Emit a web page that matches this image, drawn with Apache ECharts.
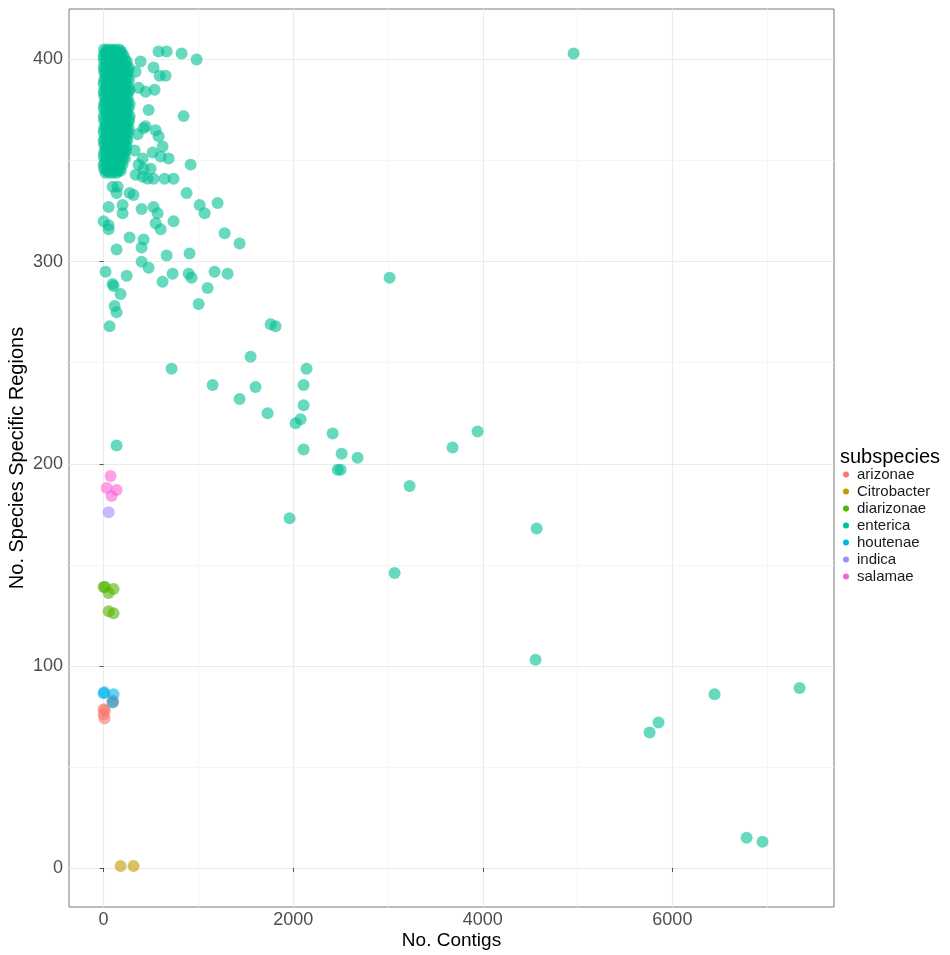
<!DOCTYPE html>
<html>
<head>
<meta charset="utf-8">
<script src="https://cdn.jsdelivr.net/npm/echarts@6/dist/echarts.min.js"></script>
<style>
html,body{margin:0;padding:0;background:#fff;}
#chart{width:950px;height:955px;}
</style>
</head>
<body>
<div id="chart"></div>
<script>
var categories = ['arizonae','Citrobacter','diarizonae','enterica','houtenae','indica','salamae'];
var colors = ['#F8766D','#C49A00','#53B400','#00C094','#00B6EB','#A58AFF','#FB61D7'];
var xTicks = [0, 2000, 4000, 6000];
var xMinor = [1000, 3000, 5000, 7000];
var yTicks = [0, 100, 200, 300, 400];
var yMinor = [50, 150, 250, 350];

var arizonae = [[95,83],[100,82],[0,78.6],[0,76],[10,74],[15,78]];
var citrobacter = [[179,1],[316,1]];
var diarizonae = [[0,139],[15,139],[53,136],[105,138],[53,127],[105,126]];
var houtenae = [[0,86.5],[8,87],[105,86],[95,82]];
var indica = [[53,176]];
var salamae = [[74,194],[32,188],[137,187],[84,184]];

// dense core of enterica (first layer)
var entericaCoreA = [
 [5,405],[40,405],[80,405],[120,405],[165,405],
 [20,403],[60,403],[100,403],[145,403],[190,403],
 [0,400],[45,400],[90,400],[135,400],[180,400],[225,400],
 [15,397],[55,397],[100,397],[150,397],[200,397],[240,397],
 [5,394],[40,394],[85,394],[130,394],[175,394],[220,394],[260,394],
 [25,391],[70,391],[115,391],[160,391],[205,391],[250,391],
 [0,388],[45,388],[90,388],[140,388],[185,388],[230,388],
 [15,385],[60,385],[105,385],[150,385],[200,385],[245,385],[275,385],
 [5,382],[50,382],[95,382],[140,382],[190,382],[235,382],
 [20,379],[65,379],[110,379],[160,379],[210,379],[255,379],
 [0,376],[40,376],[85,376],[130,376],[175,376],[220,376],[265,376],
 [25,373],[70,373],[115,373],[165,373],[210,373],[250,373],
 [5,370],[50,370],[95,370],[140,370],[185,370],[230,370],[270,370],
 [20,367],[60,367],[105,367],[150,367],[200,367],[245,367],
 [0,364],[40,364],[85,364],[130,364],[175,364],[220,364],[260,364],
 [15,361],[60,361],[100,361],[145,361],[195,361],[240,361],
 [5,358],[45,358],[90,358],[135,358],[180,358],[225,358],
 [20,355],[65,355],[110,355],[155,355],[200,355],[235,355],
 [0,352],[40,352],[85,352],[130,352],[170,352],[210,352],
 [15,349],[55,349],[100,349],[145,349],[185,349],
 [5,346],[45,346],[90,346],[130,346],[170,346],
 [20,344],[60,344],[100,344],[140,344]
];
// dense core of enterica (second layer)
var entericaCoreB = [
 [25,404],[65,404],[105,404],[145,404],[185,404],
 [0,402],[40,402],[80,402],[125,402],[170,402],[210,402],
 [25,399],[70,399],[115,399],[160,399],[205,399],[245,399],
 [0,396],[35,396],[80,396],[125,396],[175,396],[220,396],[265,396],
 [20,393],[60,393],[105,393],[150,393],[195,393],[240,393],
 [5,390],[45,390],[95,390],[135,390],[180,390],[230,390],[270,390],
 [25,387],[70,387],[115,387],[165,387],[210,387],[255,387],
 [0,384],[40,384],[85,384],[130,384],[175,384],[220,384],[265,384],
 [25,381],[70,381],[115,381],[165,381],[215,381],[255,381],
 [5,378],[45,378],[90,378],[135,378],[185,378],[235,378],[275,378],
 [20,375],[60,375],[105,375],[150,375],[195,375],[240,375],
 [0,372],[45,372],[90,372],[130,372],[190,372],[235,372],[275,372],
 [30,369],[75,369],[120,369],[165,369],[210,369],[255,369],
 [5,366],[40,366],[85,366],[130,366],[175,366],[225,366],[265,366],
 [25,363],[65,363],[110,363],[155,363],[200,363],[245,363],
 [0,360],[40,360],[80,360],[125,360],[170,360],[215,360],[250,360],
 [25,357],[70,357],[115,357],[160,357],[200,357],[240,357],
 [5,354],[45,354],[90,354],[135,354],[180,354],[220,354],
 [25,351],[65,351],[110,351],[150,351],[190,351],[225,351],
 [0,348],[35,348],[80,348],[120,348],[165,348],[200,348],
 [30,345],[70,345],[110,345],[150,345],[180,345]
];
// scattered enterica genomes
var entericaSpread = [
 [580,404],[665,404],[823,403],[981,400],[527,396],[591,392],[654,392],[538,385],[443,384],[369,386],
 [844,372],[475,375],[443,367],[549,365],[580,362],[622,357],[517,354],[602,352],[686,351],[918,348],
 [411,351],[327,355],[369,348],[422,346],[496,346],[338,343],[644,341],[738,341],[464,341],[338,394],
 [390,399],[422,366],[359,363],[527,341],[411,342],
 [95,337],[148,337],[137,334],[274,334],[316,333],[876,334],[53,327],[200,328],[200,324],[401,326],
 [527,327],[570,324],[1013,328],[1066,324],[1203,329],[0,320],[53,318],[53,316],[738,320],[549,319],
 [602,316],[1277,314],[1435,309],[274,312],[422,311],[401,307],[137,306],[907,304],[665,303],[401,300],
 [475,297],[21,295],[243,293],[622,290],[728,294],[897,294],[928,292],[1097,287],[1171,295],[1308,294],
 [1003,279],[95,289],[105,288],[179,284],[116,278],[137,275],[63,268],[1762,269],[1814,268],
 [4958,403],[3017,292],[1551,253],[2141,247],[717,247],[1603,238],[1150,239],[2110,239],[1435,232],
 [2110,229],[1730,225],[2078,222],[2025,220],[2416,215],[3945,216],[137,209],[3681,208],[2110,207],
 [2511,205],[2679,203],[2470,197],[2500,197],[3228,189],[1962,173],[4568,168],[3070,146],[4557,103],
 [6445,86],[7342,89],[5854,72],[5760,67],[6783,15],[6951,13]
];
var enterica = entericaCoreA.concat(entericaCoreB, entericaSpread);

var seriesData = [arizonae, citrobacter, diarizonae, enterica, houtenae, indica, salamae];

var chart = echarts.init(document.getElementById('chart'), null, {renderer:'canvas'});
var fontFam = '"Liberation Sans", Arial, Helvetica, sans-serif';
var plainNum = function(v){ return String(v); };

var series = categories.map(function(name, i){
  return {
    name: name,
    type: 'scatter',
    xAxisIndex: 0,
    yAxisIndex: 0,
    data: seriesData[i],
    symbol: 'circle',
    symbolSize: 12,
    itemStyle: {color: colors[i], opacity: 0.6},
    emphasis: {disabled: true},
    animation: false
  };
});

var option = {
  backgroundColor: '#ffffff',
  animation: false,
  title: {
    text: 'subspecies',
    left: 840,
    top: 447,
    textStyle: {fontFamily: fontFam, fontSize: 20, fontWeight: 'normal', color: '#000'},
    padding: 0
  },
  legend: {
    orient: 'vertical',
    left: 843,
    top: 467,
    padding: 0,
    itemWidth: 6,
    itemHeight: 6,
    itemGap: 2,
    icon: 'circle',
    data: categories,
    itemStyle: {opacity: 1},
    textStyle: {fontFamily: fontFam, fontSize: 15, lineHeight: 15, color: '#1a1a1a', padding: [0,0,0,3]},
    selectedMode: false
  },
  grid: {
    left: 69, right: 116, top: 9, bottom: 48,
    show: true,
    borderColor: '#7a7a7a',
    borderWidth: 1,
    backgroundColor: 'transparent',
    outerBoundsMode: 'none'
  },
  xAxis: [{
    type: 'value',
    min: -365, max: 7705,
    name: 'No. Contigs',
    nameLocation: 'middle',
    nameGap: 24,
    nameMoveOverlap: false,
    nameTextStyle: {fontFamily: fontFam, fontSize: 19, color: '#000'},
    axisLine: {show: false},
    axisTick: {show: true, length: 4, inside: false, customValues: xTicks, lineStyle: {color: '#555', width: 1}},
    axisLabel: {customValues: xTicks, formatter: plainNum, margin: 4, fontFamily: fontFam, fontSize: 18, color: '#4d4d4d', hideOverlap: false},
    splitLine: {show: true, lineStyle: {color: '#ebebeb', width: 1.1}},
    z: 1
  },{
    type: 'value',
    min: -365, max: 7705,
    position: 'top',
    axisLine: {show: false},
    axisTick: {show: false, customValues: xMinor},
    axisLabel: {show: false, customValues: xMinor},
    splitLine: {show: true, lineStyle: {color: '#f5f5f5', width: 1}},
    z: 0
  }],
  yAxis: [{
    type: 'value',
    min: -19.3, max: 425,
    name: 'No. Species Specific Regions',
    nameLocation: 'middle',
    nameGap: 42,
    nameRotate: 90,
    nameMoveOverlap: false,
    nameTextStyle: {fontFamily: fontFam, fontSize: 20, color: '#000'},
    axisLine: {show: false},
    axisTick: {show: true, length: 4, customValues: yTicks, lineStyle: {color: '#555', width: 1}},
    axisLabel: {customValues: yTicks, formatter: plainNum, margin: 6, fontFamily: fontFam, fontSize: 18, color: '#4d4d4d', hideOverlap: false, padding: [6,0,0,0]},
    splitLine: {show: true, lineStyle: {color: '#ebebeb', width: 1.1}},
    z: 1
  },{
    type: 'value',
    min: -19.3, max: 425,
    position: 'right',
    axisLine: {show: false},
    axisTick: {show: false, customValues: yMinor},
    axisLabel: {show: false, customValues: yMinor},
    splitLine: {show: true, lineStyle: {color: '#f5f5f5', width: 1}},
    z: 0
  }],
  series: series
};
chart.setOption(option);
</script>
</body>
</html>
